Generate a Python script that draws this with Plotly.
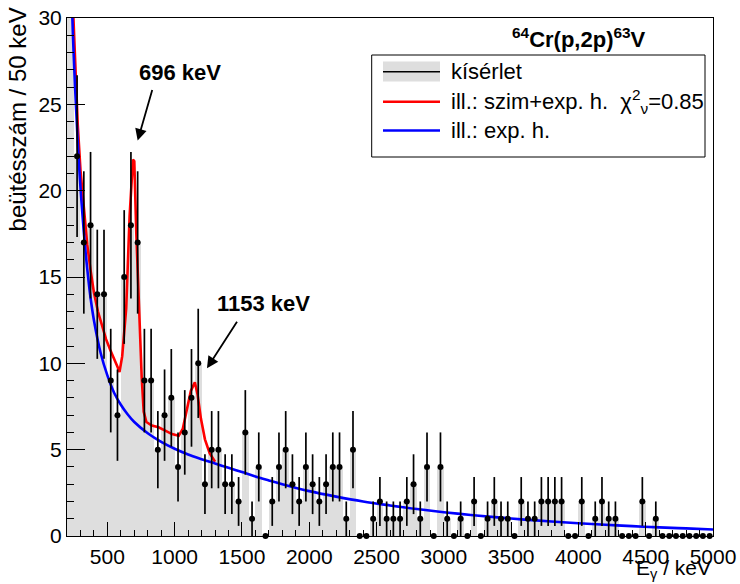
import numpy as np
import plotly.graph_objects as go

# Histogram: 50 keV bins from 200 to 5000 keV
bin_low = list(range(200, 5000, 50))
counts = [38, 22, 17, 18, 14, 14, 9, 7, 15, 18,
          17, 9, 9, 5, 7, 8, 4, 6, 8, 10,
          3, 5, 5, 3, 3, 2, 6, 1, 4, 0,
          2, 4, 5, 3, 2, 4, 3, 2, 3, 4,
          4, 1, 5, 0, 0, 1, 2, 1, 1, 1,
          2, 3, 1, 4, 0, 4, 1, 0, 1, 0,
          2, 0, 1, 2, 1, 1, 0, 2, 1, 1,
          2, 2, 2, 2, 0, 0, 2, 0, 1, 2,
          1, 1, 0, 0, 0, 2, 0, 1, 0, 0,
          0, 0, 0, 0, 0, 0]

# Fit: simulated response + exponential background
fit_E = [240, 260, 280, 300, 320, 350, 375, 400, 430, 460, 490, 520, 550, 575,
         590, 610, 640, 665, 690, 700, 715, 735, 755, 770, 790, 830, 880, 930,
         980, 1030, 1060, 1090, 1120, 1150, 1170, 1195, 1225, 1260, 1300]
fit_y = [31.5, 27.5, 23.8, 21.2, 19.4, 16.9, 15.4, 14.1, 13.0, 12.2, 11.4, 10.8,
         10.3, 9.8, 9.5, 10.4, 13.2, 18.5, 21.8, 21.7, 17.5, 13.0, 9.2, 7.2,
         6.6, 6.4, 6.3, 6.1, 5.9, 5.8, 6.2, 7.3, 8.4, 8.9, 8.2, 6.8, 5.6, 4.8, 4.3]

# Exponential background alone
bkg_E = [220, 240, 260, 280, 300, 325, 350, 375, 400, 450, 500, 550, 600, 650,
         700, 800, 900, 1000, 1100, 1200, 1300, 1400, 1500, 1600, 1700, 1800,
         2000, 2200, 2400, 2600, 2800, 3000, 3200, 3400, 3600, 3800, 4000, 4200,
         4400, 4600, 4800, 5000]
bkg_y = [38, 30, 26, 22.8, 20.2, 17.6, 15.5, 13.8, 12.5, 10.6, 9.3, 8.3, 7.6,
         7.05, 6.6, 5.95, 5.45, 5.05, 4.72, 4.45, 4.2, 3.95, 3.7, 3.45, 3.22,
         3.0, 2.6, 2.28, 2.0, 1.77, 1.56, 1.38, 1.22, 1.08, 0.95, 0.84, 0.74,
         0.65, 0.57, 0.5, 0.44, 0.38]

centers = [b + 25 for b in bin_low]
errors = np.sqrt(counts)

FONT = "Liberation Sans, Arial, Helvetica, sans-serif"

fig = go.Figure()
fig.add_trace(go.Bar(x=centers, y=counts, width=50, marker_color="#dedede",
                     marker_line_width=0, showlegend=False))
fig.add_trace(go.Scatter(x=fit_E, y=fit_y, mode="lines",
                         line=dict(color="#ff0000", width=2.6), showlegend=False))
fig.add_trace(go.Scatter(x=bkg_E, y=bkg_y, mode="lines", line_shape="spline",
                         line=dict(color="#0000ff", width=2.6), showlegend=False))
fig.add_trace(go.Scatter(x=centers, y=counts, mode="markers",
                         marker=dict(color="black", size=6, symbol="circle"),
                         error_y=dict(type="data", array=errors, visible=True,
                                      thickness=1.7, width=0, color="black"),
                         cliponaxis=False, showlegend=False))

fig.update_xaxes(range=[200, 5000], showline=True, linecolor="black", linewidth=1,
                 mirror=True, ticks="inside", ticklen=14, tickwidth=1,
                 tickcolor="black", dtick=500, tick0=0, showgrid=False,
                 zeroline=False, automargin=False,
                 tickfont=dict(family=FONT, size=21, color="black"),
                 ticklabelstandoff=2,
                 minor=dict(ticks="inside", ticklen=6, dtick=100, tick0=0,
                            tickcolor="black", showgrid=False))
fig.update_yaxes(range=[0, 30], showline=True, linecolor="black", linewidth=1,
                 mirror=True, ticks="inside", ticklen=18, tickwidth=1,
                 tickcolor="black", dtick=5, showgrid=False, zeroline=False,
                 automargin=False,
                 tickfont=dict(family=FONT, size=21, color="black"),
                 minor=dict(ticks="inside", ticklen=7, dtick=1,
                            tickcolor="black", showgrid=False))

ann = []
# axis titles
ann.append(dict(text="beütésszám / 50 keV", xref="paper", yref="paper",
                x=-0.076, y=1.024, xanchor="center", yanchor="top", textangle=-90,
                showarrow=False, font=dict(family=FONT, size=24, color="black")))
ann.append(dict(text="E<sub>γ</sub> / keV", xref="paper", yref="paper",
                x=1.0, y=-0.0935, xanchor="right", yanchor="bottom",
                showarrow=False, font=dict(family=FONT, size=21, color="black")))
# reaction label
ann.append(dict(text="<b><sup>64</sup>Cr(p,2p)<sup>63</sup>V</b>", xref="paper",
                yref="paper", x=0.792, y=0.961, xanchor="center", yanchor="middle",
                showarrow=False, font=dict(family=FONT, size=22, color="black")))
# peak labels and arrows
ann.append(dict(text="<b>696 keV</b>", x=1037, y=26.87, xref="x", yref="y",
                showarrow=False, font=dict(family=FONT, size=22, color="black")))
ann.append(dict(text="", x=725, y=22.9, xref="x", yref="y", ax=15, ay=-52,
                showarrow=True, arrowhead=2, arrowsize=1.3, arrowwidth=1.8,
                arrowcolor="black", standoff=0, startstandoff=0))
ann.append(dict(text="<b>1153 keV</b>", x=1658, y=13.47, xref="x", yref="y",
                showarrow=False, font=dict(family=FONT, size=22, color="black")))
ann.append(dict(text="", x=1240, y=9.71, xref="x", yref="y", ax=31, ay=-48,
                showarrow=True, arrowhead=2, arrowsize=1.3, arrowwidth=1.8,
                arrowcolor="black", standoff=0, startstandoff=0))

# legend (paper coordinates)
W, H = 646.0, 518.0
def px(x):
    return (x - 67.0) / W
def py(y):
    return (536.0 - y) / H

shapes = [
    dict(type="rect", xref="paper", yref="paper", x0=px(371.7), x1=px(705),
         y0=py(157), y1=py(55), line=dict(color="black", width=1),
         fillcolor="white", layer="above"),
    dict(type="rect", xref="paper", yref="paper", x0=px(383), x1=px(440),
         y0=py(81.5), y1=py(61.5), line=dict(width=0), fillcolor="#dedede",
         layer="above"),
    dict(type="line", xref="paper", yref="paper", x0=px(383), x1=px(440),
         y0=py(71.7), y1=py(71.7), line=dict(color="black", width=1.5),
         layer="above"),
    dict(type="line", xref="paper", yref="paper", x0=px(383), x1=px(440),
         y0=py(101.7), y1=py(101.7), line=dict(color="#ff0000", width=2.6),
         layer="above"),
    dict(type="line", xref="paper", yref="paper", x0=px(383), x1=px(440),
         y0=py(130.5), y1=py(130.5), line=dict(color="#0000ff", width=2.6),
         layer="above"),
]
legend_rows = [("kísérlet", 71.7),
               ("ill.: szim+exp. h.  χ<sup>2</sup><sub>ν</sub>=0.85", 101.7),
               ("ill.: exp. h.", 130.5)]
for txt, yy in legend_rows:
    ann.append(dict(text=txt, xref="paper", yref="paper", x=px(449), y=py(yy),
                    xanchor="left", yanchor="middle", showarrow=False,
                    font=dict(family=FONT, size=22, color="black")))

fig.update_layout(width=740, height=584, margin=dict(l=67, r=27, t=18, b=48),
                  plot_bgcolor="white", paper_bgcolor="white", bargap=0,
                  annotations=ann, shapes=shapes, showlegend=False)

fig.write_html("out.html")
